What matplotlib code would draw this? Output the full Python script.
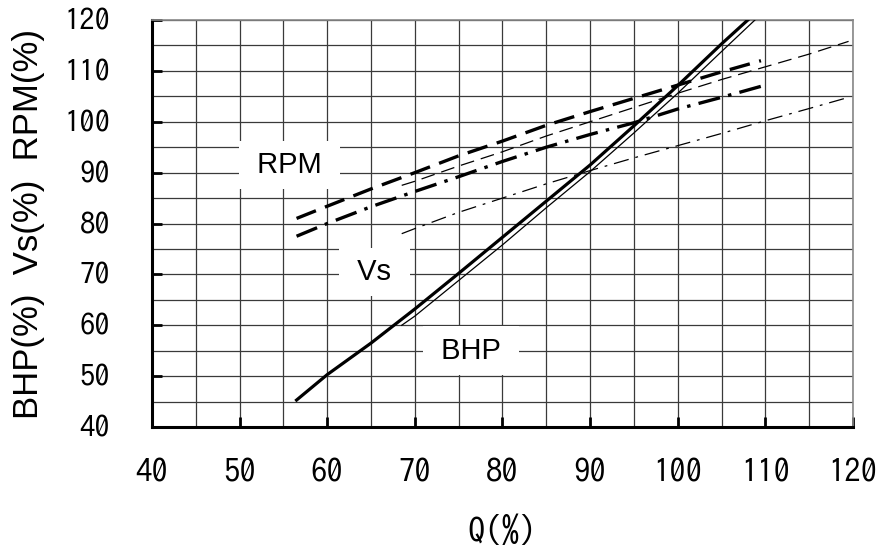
import numpy as np
import matplotlib
matplotlib.use("Agg")
import matplotlib.pyplot as plt

# Courbes caractéristiques : débit Q(%) en abscisse
q_bhp = [56.5, 60, 65, 70, 75, 80, 85, 90, 95, 100, 105, 108]
bhp = [45.3, 50.3, 56.5, 63.2, 70.2, 77.3, 84.4, 91.5, 99.2, 107.1, 115.3, 120]

q_bhp2 = [68.5, 70, 75, 80, 85, 90, 95, 100, 105, 109]
bhp2 = [60, 61.8, 68.8, 75.8, 83.1, 90.2, 97.8, 105.6, 113.8, 120.3]

q_rpm = [56.5, 60, 65, 70, 75, 80, 85, 90, 95, 100, 105, 109.5]
rpm = [81, 83.4, 86.8, 90, 93.3, 96.2, 99.3, 102, 104.6, 107.2, 109.8, 112]

q_rpm2 = [68.5, 70, 75, 80, 85, 90, 95, 100, 105, 110, 115, 119.5]
rpm2 = [87.5, 88.3, 91.3, 94.1, 97.2, 100, 102.8, 105.6, 108.3, 110.8, 113.3, 115.8]

q_vs = [56.5, 60, 65, 70, 75, 80, 85, 90, 95, 100, 105, 110]
vs = [77.5, 80, 83.3, 86.3, 89.2, 92.2, 95, 97.5, 99.8, 102.5, 104.8, 107.2]

q_vs2 = [68.5, 70, 75, 80, 85, 90, 95, 100, 105, 110, 115, 119.5]
vs2 = [78, 79, 82.2, 85, 87.8, 90.4, 92.9, 95.3, 97.7, 100.2, 102.6, 104.8]

ticks = list(range(40, 121, 10))
grille = list(range(40, 121, 5))

plt.rcParams['lines.scale_dashes'] = False
fonte_chiffres = ['IPAGothic', 'DejaVu Sans']
fonte_texte = ['Liberation Sans', 'DejaVu Sans']

fig = plt.figure(figsize=(8.76, 5.51), dpi=100)
ax = fig.add_axes([0.1735, 0.225, 0.8002, 0.7387])

# Grille fine tous les 5 %
ax.set_xticks(grille, minor=True)
ax.set_yticks(grille, minor=True)
ax.grid(True, which='both', color='#3a3a3a', linewidth=0.9, zorder=1)

# Courbes
ax.plot(q_bhp, bhp, color='black', linewidth=2.3, zorder=3)
ax.plot(q_bhp2, bhp2, color='black', linewidth=0.9, zorder=3)
ax.plot(q_rpm, rpm, color='black', linewidth=2.4, dashes=(15, 7), zorder=3)
ax.plot(q_rpm2, rpm2, color='black', linewidth=0.9, dashes=(10, 5), zorder=3)
ax.plot(q_vs, vs, color='black', linewidth=2.4, dashes=(16, 6, 2.5, 6), zorder=3)
ax.plot(q_vs2, vs2, color='black', linewidth=0.9, dashes=(11, 5, 2, 5), zorder=3)

# Étiquettes des courbes sur fond blanc
boite = dict(boxstyle='square,pad=0.35', facecolor='white', edgecolor='none')
for txt, x, y in [(' RPM ', 55.7, 91.5), (' Vs ', 65.4, 70.5), (' BHP ', 76.4, 55)]:
    ax.text(x, y, txt, fontsize=21, family=fonte_texte, ha='center', va='center',
            bbox=boite, zorder=5)

ax.set_xlim(40, 120)
ax.set_ylim(40, 120)
ax.set_xticks(ticks)
ax.set_yticks(ticks)
ax.tick_params(which='major', direction='in', length=7, width=2, pad=0)
ax.tick_params(which='minor', length=0)
ax.tick_params(axis='x', pad=23)
ax.tick_params(axis='y', pad=30)
for lab in ax.get_xticklabels():
    lab.set_family(fonte_chiffres)
    lab.set_fontsize(23.5)
for lab in ax.get_yticklabels():
    lab.set_family(fonte_chiffres)
    lab.set_fontsize(22)

for cote in ['left', 'bottom']:
    ax.spines[cote].set_linewidth(2.2)
for cote in ['top', 'right']:
    ax.spines[cote].set_color('#888888')
    ax.spines[cote].set_linewidth(1.2)

ax.set_xlabel('Q(%)', fontsize=25, family=fonte_chiffres)
ax.xaxis.set_label_coords(0.5, -0.215)
ax.set_ylabel('BHP(%)  Vs(%)  RPM(%)', fontsize=25, family=fonte_texte)
ax.yaxis.set_label_coords(-0.153, 0.5)

fig.savefig('out.png', dpi=100)
